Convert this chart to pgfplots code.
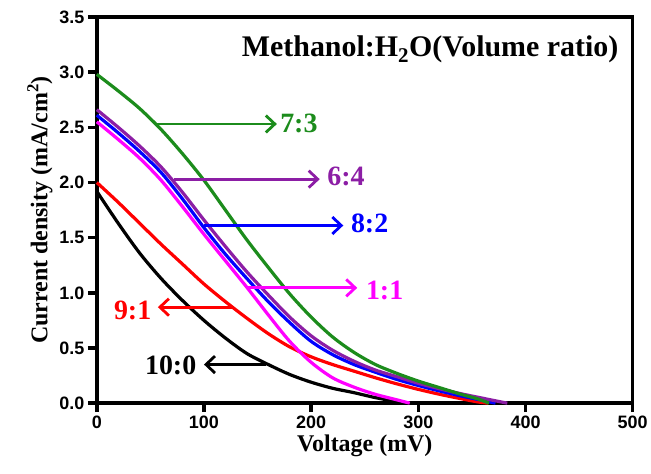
\documentclass[border=0pt]{standalone}
\usepackage{fontspec}
\setmainfont{Liberation Serif}
\newfontfamily\arialfont{Liberation Sans}
\usepackage{pgfplots}
\pgfplotsset{compat=1.18}
\usetikzlibrary{arrows.meta}
\definecolor{cgreen}{RGB}{28,140,28}
\definecolor{cpurple}{RGB}{140,30,165}
\definecolor{cmag}{RGB}{255,0,255}
\definecolor{cblue}{RGB}{0,0,255}
\definecolor{cred}{RGB}{255,0,0}

\begin{document}
\begin{tikzpicture}
\begin{axis}[
    scale only axis, width=537pt, height=387pt,
    xmin=0, xmax=500, ymin=0, ymax=3.5,
    xtick={0,100,...,500}, ytick={0,0.5,...,3.5},
    minor tick num=0,
    tick align=outside, major tick length=9pt,
    xtick pos=bottom, ytick pos=left,
    axis line style={line width=3.5pt}, tick style={line width=3.5pt,black},
    /pgf/number format/assume math mode=true,
    tick label style={font=\arialfont\bfseries\fontsize{18}{20}\selectfont},
    yticklabel style={/pgf/number format/.cd, fixed, fixed zerofill, precision=1},
    xticklabel style={/pgf/number format/.cd, fixed, 1000 sep={}},
    xlabel={\bfseries Voltage (mV)},
    ylabel={\bfseries Current density (mA/cm\textsuperscript{2})},
    label style={font=\fontsize{24}{28}\selectfont},
    clip=false,
]
\pgfplotsset{curve/.style={#1, no marks, line width=3.2pt, line join=round, smooth}}
% 10:0
\addplot[curve=black] coordinates {
 (0,1.92) (20,1.63) (40,1.36) (60,1.13) (80,0.93) (100,0.75) (120,0.59)
 (140,0.45) (160,0.35) (180,0.26) (200,0.19) (220,0.135) (240,0.095)
 (260,0.05) (280,0.015) (290,0)
};
% 9:1
\addplot[curve=cred] coordinates {
 (0,2.00) (20,1.82) (40,1.63) (60,1.44) (80,1.26) (100,1.08) (120,0.92)
 (140,0.77) (160,0.63) (180,0.51) (200,0.42) (220,0.35) (240,0.29)
 (260,0.23) (280,0.175) (300,0.125) (320,0.08) (340,0.04) (355,0.012) (365,0)
};
% 1:1
\addplot[curve=cmag] coordinates {
 (0,2.55) (20,2.39) (40,2.22) (60,2.02) (80,1.78) (100,1.53) (120,1.29)
 (140,1.05) (160,0.80) (180,0.56) (200,0.37) (220,0.23) (240,0.145)
 (260,0.08) (280,0.03) (292,0)
};
% 8:2
\addplot[curve=cblue] coordinates {
 (0,2.61) (20,2.45) (40,2.28) (60,2.09) (80,1.85) (100,1.59) (120,1.35)
 (140,1.13) (160,0.92) (180,0.73) (200,0.56) (220,0.44) (240,0.35)
 (260,0.28) (280,0.215) (300,0.16) (320,0.11) (340,0.065) (360,0.025) (372,0)
};
% 6:4
\addplot[curve=cpurple] coordinates {
 (0,2.66) (20,2.50) (40,2.33) (60,2.14) (80,1.91) (100,1.66) (120,1.42)
 (140,1.19) (160,0.98) (180,0.78) (200,0.61) (220,0.48) (240,0.38)
 (260,0.30) (280,0.24) (300,0.18) (320,0.13) (340,0.085) (360,0.045) (383,0)
};
% 7:3
\addplot[curve=cgreen] coordinates {
 (0,2.98) (20,2.83) (40,2.67) (60,2.48) (80,2.26) (100,2.02) (120,1.75)
 (140,1.48) (160,1.23) (180,0.99) (200,0.78) (220,0.60) (240,0.46)
 (260,0.35) (280,0.27) (300,0.20) (320,0.14) (340,0.08) (355,0.04) (366,0)
};

\tikzset{lab/.style={font=\bfseries\fontsize{28}{30}\selectfont, inner sep=0pt},
         arr/.style={line width=2.8pt, -{Straight Barb[length=9pt,width=17pt,line width=2.8pt]}}}
\node[anchor=base, font=\bfseries\fontsize{30}{32}\selectfont, inner sep=0pt]
  at (axis cs:311,3.14) {Methanol:H\textsubscript{2}O(Volume ratio)};

\draw[arr, cgreen] (axis cs:56,2.53) -- (axis cs:168,2.53);
\node[lab, anchor=base west, text=cgreen] at (axis cs:171,2.45) {7:3};
\draw[arr, cpurple] (axis cs:72,2.03) -- (axis cs:208,2.03);
\node[lab, anchor=base west, text=cpurple] at (axis cs:215,1.97) {6:4};
\draw[arr, cblue] (axis cs:100,1.61) -- (axis cs:230,1.61);
\node[lab, anchor=base west, text=cblue] at (axis cs:237,1.55) {8:2};
\draw[arr, cmag] (axis cs:139,1.045) -- (axis cs:243,1.045);
\node[lab, anchor=base west, text=cmag] at (axis cs:251,0.94) {1:1};
\draw[arr, cred] (axis cs:127,0.87) -- (axis cs:57,0.87);
\node[lab, anchor=base east, text=cred] at (axis cs:51,0.76) {9:1};
\draw[arr, black] (axis cs:158,0.35) -- (axis cs:100,0.35);
\node[lab, anchor=base east, text=black] at (axis cs:93,0.26) {10:0};
\end{axis}
\path ([shift={(-97pt,-70pt)}]current axis.south west) rectangle ([shift={(17pt,17pt)}]current axis.north east);
\end{tikzpicture}
\end{document}
